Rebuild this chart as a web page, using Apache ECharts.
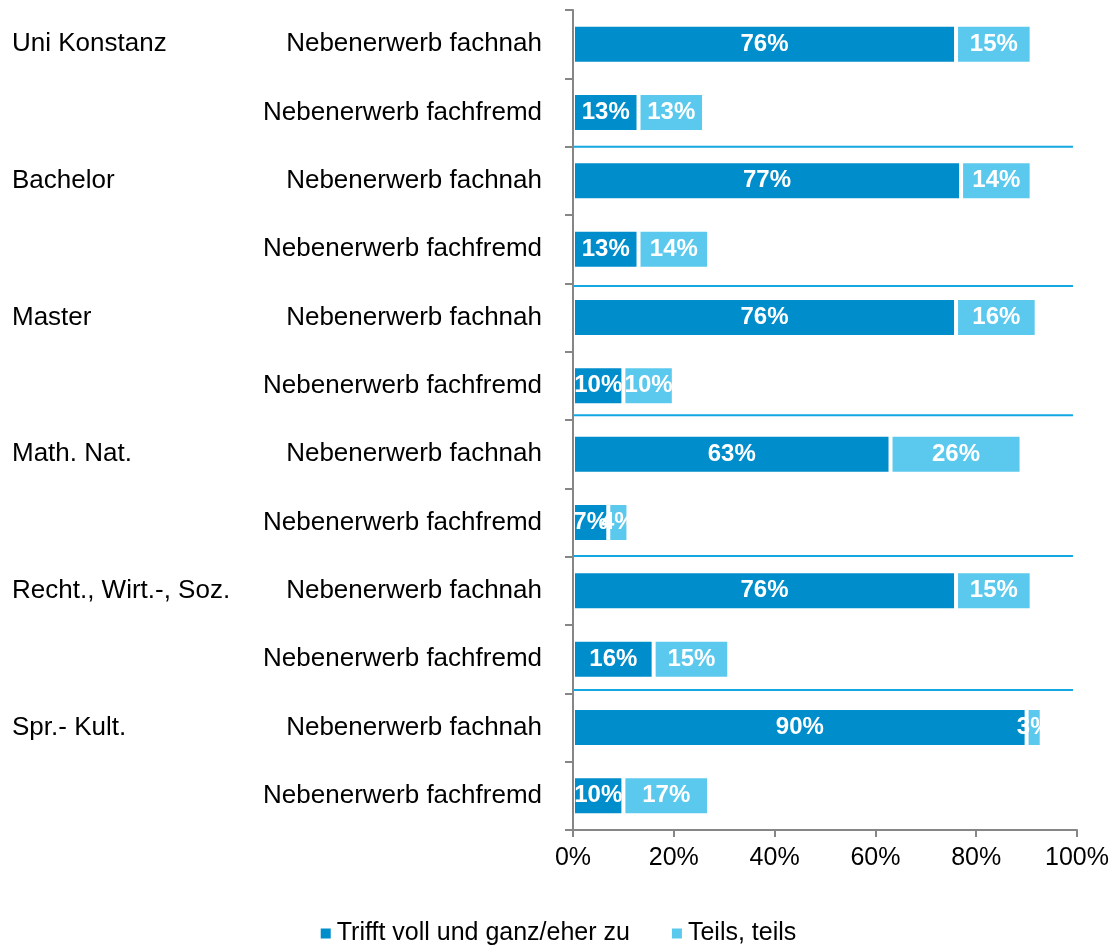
<!DOCTYPE html>
<html>
<head>
<meta charset="utf-8">
<script src="https://cdn.jsdelivr.net/npm/echarts@6/dist/echarts.min.js"></script>
<style>html,body{margin:0;padding:0;background:#fff}#c{width:1115px;height:947px}</style>
</head>
<body>
<div id="c"></div>
<script>
const rowLabels = [
  'Nebenerwerb fachnah','Nebenerwerb fachfremd',
  'Nebenerwerb fachnah','Nebenerwerb fachfremd',
  'Nebenerwerb fachnah','Nebenerwerb fachfremd',
  'Nebenerwerb fachnah','Nebenerwerb fachfremd',
  'Nebenerwerb fachnah','Nebenerwerb fachfremd',
  'Nebenerwerb fachnah','Nebenerwerb fachfremd'
];
const groupLabels = [
  'Uni Konstanz','', 'Bachelor','', 'Master','', 'Math. Nat.','',
  'Recht., Wirt.-, Soz.','', 'Spr.- Kult.',''
];
const seriesNames = ['Trifft voll und ganz/eher zu','Teils, teils'];
const trifftZu = [76,13, 77,13, 76,10, 63,7, 76,16, 90,10];
const teilsTeils = [15,13, 14,14, 16,10, 26,4, 15,15, 3,17];
const xTicks = [0,20,40,60,80,100];
// separator lines between groups (in row units, 0..12 from top)
const separators = [2.0, 4.04, 5.93, 7.99, 9.95];
const sepStart = -0.4, sepEnd = 99.2;

const FONT = 'Liberation Sans, Arial, sans-serif';
const grey = '#868686';

const sepSeries = separators.map(v => ({
  type: 'line', xAxisIndex: 0, yAxisIndex: 2, silent: true,
  showSymbol: false, symbol: 'none', z: 3,
  lineStyle: {color: '#13A8E2', width: 2},
  data: [[sepStart, v], [sepEnd, v]]
}));

const chart = echarts.init(document.getElementById('c'), null, {renderer: 'canvas'});
chart.setOption({
  animation: false,
  textStyle: {fontFamily: FONT},
  grid: {left: 573, right: 38, top: 10, bottom: 117, containLabel: false},
  legend: {
    data: seriesNames,
    left: 'center',
    top: 916,
    icon: 'rect',
    itemWidth: 12,
    itemHeight: 12,
    itemGap: 40,
    textStyle: {fontSize: 25, color: '#000', fontFamily: FONT}
  },
  xAxis: {
    type: 'value', position: 'bottom', min: xTicks[0], max: xTicks[xTicks.length-1], interval: 20,
    splitLine: {show: false},
    axisLine: {show: true, onZero: false, lineStyle: {color: grey, width: 2}},
    axisTick: {show: true, length: 7, lineStyle: {color: grey, width: 2}},
    axisLabel: {formatter: '{value}%', fontSize: 25, color: '#000', margin: 16, fontFamily: FONT}
  },
  yAxis: [
    {
      type: 'category', data: rowLabels, inverse: true, z: 10,
      axisLine: {show: true, lineStyle: {color: grey, width: 2}},
      axisTick: {show: true, length: 8, lineStyle: {color: grey, width: 2}},
      axisLabel: {fontSize: 26, color: '#000', margin: 31, fontFamily: FONT}
    },
    {
      type: 'category', data: groupLabels, inverse: true, position: 'left',
      axisLine: {show: false}, axisTick: {show: false},
      axisLabel: {fontSize: 26, color: '#000', margin: 561, align: 'left', fontFamily: FONT, interval: 0}
    },
    {
      type: 'value', min: 0, max: 12, inverse: true, show: false
    }
  ],
  series: [
    {
      name: seriesNames[0], type: 'bar', stack: 'a', barWidth: 39,
      data: trifftZu,
      itemStyle: {color: '#008DCB', borderColor: '#fff', borderWidth: 2},
      label: {show: true, position: 'inside', formatter: '{c}%', color: '#fff', fontWeight: 'bold', fontSize: 24, fontFamily: FONT}
    },
    {
      name: seriesNames[1], type: 'bar', stack: 'a', barWidth: 39,
      data: teilsTeils,
      itemStyle: {color: '#5BC8ED', borderColor: '#fff', borderWidth: 2},
      label: {show: true, position: 'inside', formatter: '{c}%', color: '#fff', fontWeight: 'bold', fontSize: 24, fontFamily: FONT}
    }
  ].concat(sepSeries)
});
</script>
</body>
</html>
